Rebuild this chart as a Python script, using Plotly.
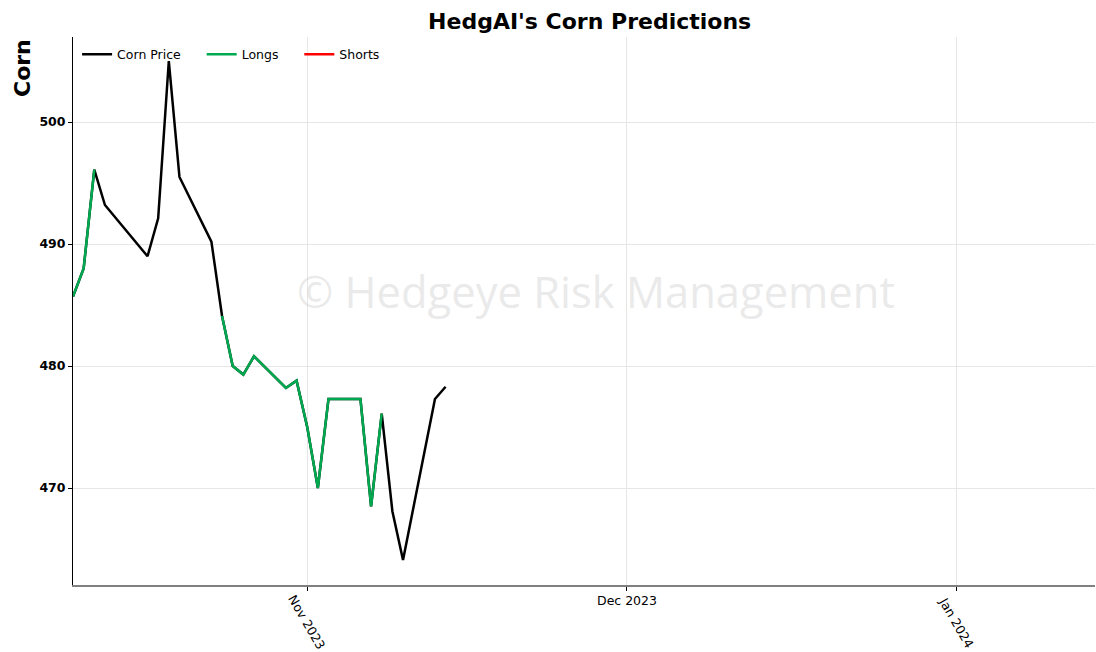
import plotly.graph_objects as go

# Daily corn settlement prices
dates = [
    "2023-10-10", "2023-10-11", "2023-10-12", "2023-10-13", "2023-10-17",
    "2023-10-18", "2023-10-19", "2023-10-20", "2023-10-23", "2023-10-24",
    "2023-10-25", "2023-10-26", "2023-10-27", "2023-10-30", "2023-10-31",
    "2023-11-01", "2023-11-02", "2023-11-03", "2023-11-06", "2023-11-07",
    "2023-11-08", "2023-11-09", "2023-11-10", "2023-11-13", "2023-11-14",
]
corn_price = [
    485.7, 488.0, 496.1, 493.2, 489.0,
    492.1, 505.0, 495.5, 490.2, 484.1,
    480.0, 479.3, 480.8, 478.2, 478.8,
    475.0, 470.0, 477.3, 477.3, 468.5,
    476.1, 468.1, 464.1, 477.3, 478.3,
]
# Long signal days (None where no long position)
longs = [
    485.7, 488.0, 496.1, None, None,
    None, None, None, None, 484.1,
    480.0, 479.3, 480.8, 478.2, 478.8,
    475.0, 470.0, 477.3, 477.3, 468.5,
    476.1, None, None, None, None,
]
# No short signals in this window
shorts = [None] * len(dates)

tick_dates = ["2023-11-01", "2023-12-01", "2024-01-01"]
tick_labels = ["Nov 2023", "Dec 2023", "Jan 2024"]
tick_angles = [60, 0, 60]

font_family = "DejaVu Sans"
pad = "\u00a0" * 4  # trailing room between legend entries

fig = go.Figure()
fig.add_trace(go.Scatter(x=dates, y=corn_price, mode="lines", name="Corn Price" + pad,
                         line=dict(color="#000000", width=2.5)))
fig.add_trace(go.Scatter(x=dates, y=longs, mode="lines", name="Longs" + pad,
                         line=dict(color="#00a94f", width=2.5), connectgaps=False))
fig.add_trace(go.Scatter(x=dates, y=shorts, mode="lines", name="Shorts",
                         line=dict(color="#ff0000", width=2.5)))

fig.update_layout(
    width=1096, height=652,
    margin=dict(l=73, r=1, t=37, b=67),
    paper_bgcolor="white", plot_bgcolor="white",
    font=dict(family=font_family, color="black", size=12),
    showlegend=True,
    legend=dict(orientation="h", x=0.004, y=0.995, xanchor="left", yanchor="top",
                bgcolor="rgba(0,0,0,0)", font=dict(size=12.5, family=font_family),
                itemwidth=30),
    title=dict(text="<b>HedgAI's Corn Predictions</b>", x=0.538, xanchor="center",
               y=0.967, yanchor="middle", font=dict(size=22, family=font_family)),
)

fig.update_xaxes(
    type="date", range=["2023-10-10", "2024-01-14"],
    tickvals=tick_dates, ticktext=[""] * len(tick_dates),
    ticks="outside", ticklen=4, tickcolor="black",
    showgrid=True, gridcolor="#e6e6e6", gridwidth=1,
    showline=True, linecolor="#808080", linewidth=1.5,
    zeroline=False,
)
fig.update_yaxes(
    range=[462.05, 506.97], tickvals=[470, 480, 490, 500],
    ticks="outside", ticklen=4, tickcolor="black",
    tickfont=dict(size=12.5, family=font_family, weight="bold"),
    showgrid=True, gridcolor="#e6e6e6", gridwidth=1,
    showline=True, linecolor="black", linewidth=1,
    zeroline=False,
)

# Date labels under the axis
for d, lab, ang in zip(tick_dates, tick_labels, tick_angles):
    fig.add_annotation(x=d, xref="x", y=0, yref="paper", text=lab, textangle=ang,
                       showarrow=False, xanchor="center", yanchor="middle",
                       yshift=-37 if ang else -15,
                       font=dict(size=12.5, family=font_family, color="black"))

# Axis title placed at the top of the y axis
fig.add_annotation(x=0, xref="paper", xshift=-51, y=1, yref="paper", yshift=-31,
                   text="<b>Corn</b>", textangle=-90, showarrow=False,
                   xanchor="center", yanchor="middle",
                   font=dict(size=22, family=font_family, color="black"))

# Watermark
fig.add_annotation(x=0.512, xref="paper", y=0.535, yref="paper",
                   text="© Hedgeye Risk Management", showarrow=False,
                   xanchor="center", yanchor="middle",
                   font=dict(size=43.5, family="Open Sans", color="rgba(200,200,200,0.4)"))

fig.write_html("out.html")
